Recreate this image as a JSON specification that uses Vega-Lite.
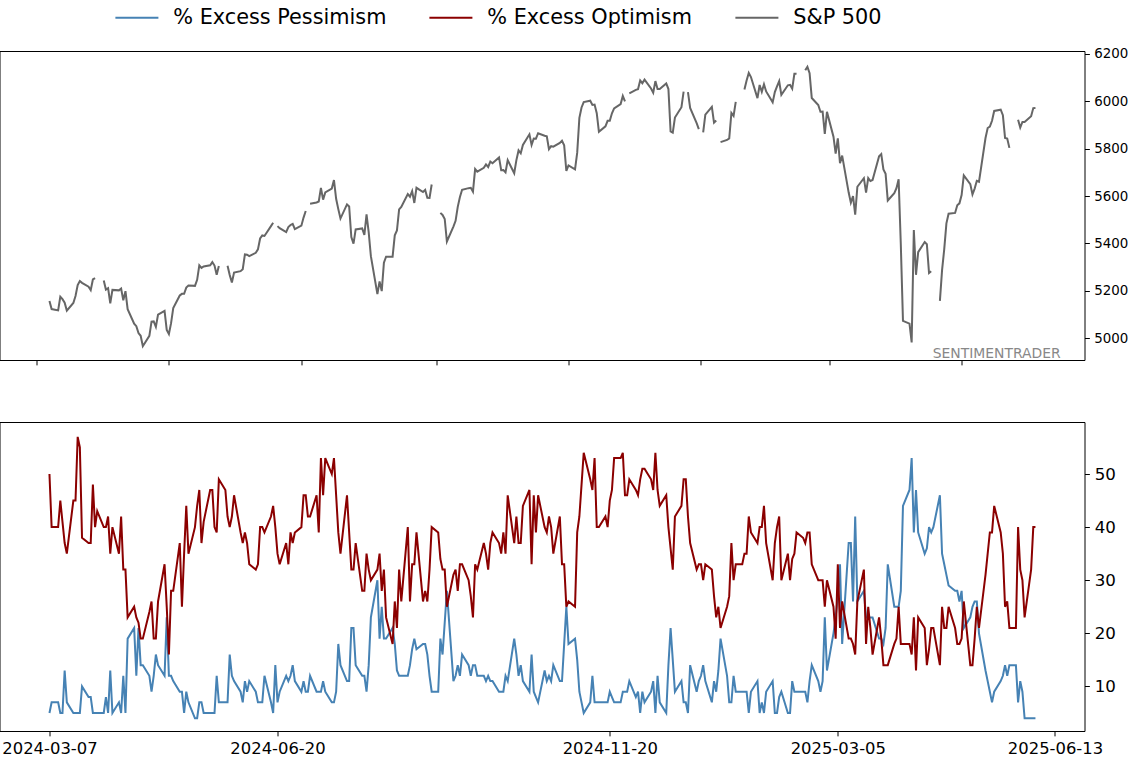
{
"$schema": "https://vega.github.io/schema/vega-lite/v6.json",
"padding": {"left": -1.5, "top": 7, "right": 0, "bottom": 0},
"background": "white",
"bounds": "flush",
"spacing": 62,
"config": {
  "font": "DejaVu Sans",
  "view": {"stroke": "black", "strokeWidth": 1},
  "axis": {"domain": false, "grid": false, "tickColor": "black", "tickSize": 4.86, "tickWidth": 1, "labelColor": "black", "labelFont": "DejaVu Sans", "labelPadding": 4.86, "title": null}
},
"datasets": {"d": [
{"date":"2024-03-07","p":5,"o":50,"s":5157.36},
{"date":"2024-03-08","p":7,"o":40,"s":5123.69},
{"date":"2024-03-11","p":7,"o":40,"s":5117.94},
{"date":"2024-03-12","p":5,"o":45,"s":5175.27},
{"date":"2024-03-13","p":5,"o":41,"s":5165.31},
{"date":"2024-03-14","p":13,"o":37,"s":5150.48},
{"date":"2024-03-15","p":7,"o":35,"s":5117.09},
{"date":"2024-03-18","p":5,"o":45,"s":5149.42},
{"date":"2024-03-19","p":5,"o":45,"s":5178.51},
{"date":"2024-03-20","p":5,"o":57,"s":5224.62},
{"date":"2024-03-21","p":5,"o":55,"s":5241.53},
{"date":"2024-03-22","p":10,"o":38,"s":5234.18},
{"date":"2024-03-25","p":8,"o":37,"s":5218.19},
{"date":"2024-03-26","p":8,"o":37,"s":5203.58},
{"date":"2024-03-27","p":5,"o":48,"s":5248.49},
{"date":"2024-03-28","p":5,"o":40,"s":5254.35},
{"date":"2024-03-29","p":5,"o":43,"s":null},
{"date":"2024-04-01","p":5,"o":40,"s":5243.77},
{"date":"2024-04-02","p":8,"o":40,"s":5205.81},
{"date":"2024-04-03","p":5,"o":42,"s":5211.49},
{"date":"2024-04-04","p":13,"o":35,"s":5147.21},
{"date":"2024-04-05","p":5,"o":40,"s":5204.34},
{"date":"2024-04-08","p":7,"o":35,"s":5202.39},
{"date":"2024-04-09","p":5,"o":42,"s":5209.91},
{"date":"2024-04-10","p":12,"o":32,"s":5160.64},
{"date":"2024-04-11","p":5,"o":32,"s":5199.06},
{"date":"2024-04-12","p":19,"o":23,"s":5123.41},
{"date":"2024-04-15","p":21,"o":25,"s":5061.82},
{"date":"2024-04-16","p":12,"o":23,"s":5051.41},
{"date":"2024-04-17","p":21,"o":22,"s":5022.21},
{"date":"2024-04-18","p":14,"o":19,"s":5011.12},
{"date":"2024-04-19","p":14,"o":19,"s":4967.23},
{"date":"2024-04-22","p":12,"o":24,"s":5010.60},
{"date":"2024-04-23","p":9,"o":26,"s":5070.55},
{"date":"2024-04-24","p":12,"o":19,"s":5071.63},
{"date":"2024-04-25","p":16,"o":19,"s":5048.42},
{"date":"2024-04-26","p":14,"o":26,"s":5099.96},
{"date":"2024-04-29","p":12,"o":33,"s":5116.17},
{"date":"2024-04-30","p":23,"o":25,"s":5035.69},
{"date":"2024-05-01","p":12,"o":16,"s":5018.39},
{"date":"2024-05-02","p":12,"o":28,"s":5064.20},
{"date":"2024-05-03","p":11,"o":28,"s":5127.79},
{"date":"2024-05-06","p":9,"o":37,"s":5180.74},
{"date":"2024-05-07","p":9,"o":25,"s":5187.70},
{"date":"2024-05-08","p":5,"o":35,"s":5187.67},
{"date":"2024-05-09","p":9,"o":44,"s":5214.08},
{"date":"2024-05-10","p":7,"o":35,"s":5222.68},
{"date":"2024-05-13","p":4,"o":40,"s":5221.42},
{"date":"2024-05-14","p":4,"o":44,"s":5246.68},
{"date":"2024-05-15","p":7,"o":47,"s":5308.15},
{"date":"2024-05-16","p":7,"o":37,"s":5297.10},
{"date":"2024-05-17","p":5,"o":41,"s":5303.27},
{"date":"2024-05-20","p":5,"o":47,"s":5308.13},
{"date":"2024-05-21","p":5,"o":47,"s":5321.41},
{"date":"2024-05-22","p":5,"o":40,"s":5307.01},
{"date":"2024-05-23","p":12,"o":39,"s":5267.84},
{"date":"2024-05-24","p":7,"o":49,"s":5304.72},
{"date":"2024-05-27","p":7,"o":47,"s":null},
{"date":"2024-05-28","p":7,"o":42,"s":5306.04},
{"date":"2024-05-29","p":16,"o":40,"s":5266.95},
{"date":"2024-05-30","p":12,"o":42,"s":5235.48},
{"date":"2024-05-31","p":11,"o":46,"s":5277.51},
{"date":"2024-06-03","p":9,"o":39,"s":5283.40},
{"date":"2024-06-04","p":7,"o":37,"s":5291.34},
{"date":"2024-06-05","p":11,"o":39,"s":5354.03},
{"date":"2024-06-06","p":9,"o":37,"s":5352.96},
{"date":"2024-06-07","p":11,"o":33,"s":5346.99},
{"date":"2024-06-10","p":9,"o":32,"s":5360.79},
{"date":"2024-06-11","p":7,"o":33,"s":5375.32},
{"date":"2024-06-12","p":7,"o":40,"s":5421.03},
{"date":"2024-06-13","p":7,"o":40,"s":5433.74},
{"date":"2024-06-14","p":12,"o":39,"s":5431.60},
{"date":"2024-06-17","p":7,"o":42,"s":5473.23},
{"date":"2024-06-18","p":5,"o":44,"s":5487.03},
{"date":"2024-06-19","p":14,"o":40,"s":null},
{"date":"2024-06-20","p":7,"o":35,"s":5473.17},
{"date":"2024-06-21","p":9,"o":33,"s":5464.62},
{"date":"2024-06-24","p":12,"o":37,"s":5447.87},
{"date":"2024-06-25","p":11,"o":33,"s":5469.30},
{"date":"2024-06-26","p":12,"o":39,"s":5477.90},
{"date":"2024-06-27","p":14,"o":37,"s":5482.87},
{"date":"2024-06-28","p":11,"o":39,"s":5460.48},
{"date":"2024-07-01","p":9,"o":40,"s":5475.09},
{"date":"2024-07-02","p":11,"o":46,"s":5509.01},
{"date":"2024-07-03","p":9,"o":46,"s":5537.02},
{"date":"2024-07-04","p":9,"o":42,"s":null},
{"date":"2024-07-05","p":12,"o":42,"s":5567.19},
{"date":"2024-07-08","p":9,"o":46,"s":5572.85},
{"date":"2024-07-09","p":9,"o":39,"s":5576.98},
{"date":"2024-07-10","p":9,"o":53,"s":5633.91},
{"date":"2024-07-11","p":11,"o":46,"s":5584.54},
{"date":"2024-07-12","p":9,"o":53,"s":5615.35},
{"date":"2024-07-15","p":7,"o":50,"s":5631.22},
{"date":"2024-07-16","p":7,"o":53,"s":5667.20},
{"date":"2024-07-17","p":9,"o":46,"s":5588.27},
{"date":"2024-07-18","p":18,"o":39,"s":5544.59},
{"date":"2024-07-19","p":14,"o":35,"s":5505.00},
{"date":"2024-07-22","p":11,"o":46,"s":5564.41},
{"date":"2024-07-23","p":11,"o":39,"s":5555.74},
{"date":"2024-07-24","p":21,"o":32,"s":5427.13},
{"date":"2024-07-25","p":21,"o":32,"s":5399.22},
{"date":"2024-07-26","p":14,"o":37,"s":5459.10},
{"date":"2024-07-29","p":12,"o":28,"s":5463.54},
{"date":"2024-07-30","p":12,"o":28,"s":5436.44},
{"date":"2024-07-31","p":9,"o":35,"s":5522.30},
{"date":"2024-08-01","p":14,"o":32,"s":5446.68},
{"date":"2024-08-02","p":23,"o":30,"s":5346.56},
{"date":"2024-08-05","p":30,"o":32,"s":5186.33},
{"date":"2024-08-06","p":19,"o":35,"s":5240.03},
{"date":"2024-08-07","p":25,"o":28,"s":5199.50},
{"date":"2024-08-08","p":19,"o":32,"s":5319.31},
{"date":"2024-08-09","p":19,"o":23,"s":5344.16},
{"date":"2024-08-12","p":21,"o":18,"s":5344.39},
{"date":"2024-08-13","p":18,"o":26,"s":5434.43},
{"date":"2024-08-14","p":13,"o":21,"s":5455.21},
{"date":"2024-08-15","p":12,"o":32,"s":5543.22},
{"date":"2024-08-16","p":12,"o":26,"s":5554.25},
{"date":"2024-08-19","p":12,"o":40,"s":5608.25},
{"date":"2024-08-20","p":14,"o":26,"s":5597.12},
{"date":"2024-08-21","p":17,"o":33,"s":5620.85},
{"date":"2024-08-22","p":19,"o":33,"s":5570.64},
{"date":"2024-08-23","p":17,"o":39,"s":5634.61},
{"date":"2024-08-26","p":18,"o":26,"s":5616.84},
{"date":"2024-08-27","p":18,"o":28,"s":5625.80},
{"date":"2024-08-28","p":16,"o":26,"s":5592.18},
{"date":"2024-08-29","p":12,"o":32,"s":5591.96},
{"date":"2024-08-30","p":9,"o":40,"s":5648.40},
{"date":"2024-09-02","p":9,"o":39,"s":null},
{"date":"2024-09-03","p":19,"o":34,"s":5528.93},
{"date":"2024-09-04","p":16,"o":32,"s":5520.07},
{"date":"2024-09-05","p":22,"o":32,"s":5503.41},
{"date":"2024-09-06","p":28,"o":25,"s":5408.42},
{"date":"2024-09-09","p":11,"o":31,"s":5471.05},
{"date":"2024-09-10","p":12,"o":32,"s":5495.52},
{"date":"2024-09-11","p":14,"o":28,"s":5554.13},
{"date":"2024-09-12","p":12,"o":33,"s":5595.76},
{"date":"2024-09-13","p":16,"o":33,"s":5626.02},
{"date":"2024-09-16","p":14,"o":30,"s":5633.09},
{"date":"2024-09-17","p":12,"o":27,"s":5634.58},
{"date":"2024-09-18","p":14,"o":23,"s":5618.26},
{"date":"2024-09-19","p":14,"o":33,"s":5713.64},
{"date":"2024-09-20","p":12,"o":32,"s":5702.55},
{"date":"2024-09-23","p":12,"o":37,"s":5718.57},
{"date":"2024-09-24","p":11,"o":35,"s":5732.93},
{"date":"2024-09-25","p":12,"o":32,"s":5722.26},
{"date":"2024-09-26","p":11,"o":37,"s":5745.37},
{"date":"2024-09-27","p":11,"o":39,"s":5738.17},
{"date":"2024-09-30","p":9,"o":37,"s":5762.48},
{"date":"2024-10-01","p":9,"o":35,"s":5708.75},
{"date":"2024-10-02","p":9,"o":39,"s":5709.54},
{"date":"2024-10-03","p":12,"o":35,"s":5699.94},
{"date":"2024-10-04","p":11,"o":46,"s":5751.07},
{"date":"2024-10-07","p":19,"o":37,"s":5695.94},
{"date":"2024-10-08","p":16,"o":42,"s":5751.13},
{"date":"2024-10-09","p":12,"o":37,"s":5792.04},
{"date":"2024-10-10","p":14,"o":37,"s":5780.05},
{"date":"2024-10-11","p":11,"o":44,"s":5815.03},
{"date":"2024-10-14","p":9,"o":47,"s":5859.85},
{"date":"2024-10-15","p":16,"o":33,"s":5815.26},
{"date":"2024-10-16","p":9,"o":46,"s":5842.47},
{"date":"2024-10-17","p":8,"o":39,"s":5841.47},
{"date":"2024-10-18","p":7,"o":46,"s":5864.67},
{"date":"2024-10-21","p":13,"o":40,"s":5853.98},
{"date":"2024-10-22","p":11,"o":39,"s":5851.20},
{"date":"2024-10-23","p":12,"o":42,"s":5797.42},
{"date":"2024-10-24","p":11,"o":40,"s":5809.86},
{"date":"2024-10-25","p":14,"o":35,"s":5808.12},
{"date":"2024-10-28","p":11,"o":42,"s":5823.52},
{"date":"2024-10-29","p":11,"o":33,"s":5832.92},
{"date":"2024-10-30","p":18,"o":33,"s":5813.67},
{"date":"2024-10-31","p":25,"o":25,"s":5705.45},
{"date":"2024-11-01","p":18,"o":26,"s":5728.80},
{"date":"2024-11-04","p":19,"o":25,"s":5712.69},
{"date":"2024-11-05","p":15,"o":39,"s":5782.76},
{"date":"2024-11-06","p":9,"o":42,"s":5929.04},
{"date":"2024-11-07","p":7,"o":48,"s":5973.10},
{"date":"2024-11-08","p":5,"o":54,"s":5995.54},
{"date":"2024-11-11","p":7,"o":49,"s":6001.35},
{"date":"2024-11-12","p":12,"o":47,"s":5983.99},
{"date":"2024-11-13","p":7,"o":53,"s":5985.38},
{"date":"2024-11-14","p":7,"o":40,"s":5949.17},
{"date":"2024-11-15","p":7,"o":40,"s":5870.62},
{"date":"2024-11-18","p":7,"o":42,"s":5893.62},
{"date":"2024-11-19","p":7,"o":40,"s":5916.98},
{"date":"2024-11-20","p":9,"o":45,"s":5917.11},
{"date":"2024-11-21","p":8,"o":47,"s":5948.71},
{"date":"2024-11-22","p":7,"o":53,"s":5969.34},
{"date":"2024-11-25","p":7,"o":53,"s":5987.37},
{"date":"2024-11-26","p":9,"o":54,"s":6021.63},
{"date":"2024-11-27","p":9,"o":46,"s":5998.74},
{"date":"2024-11-28","p":9,"o":46,"s":null},
{"date":"2024-11-29","p":11,"o":49,"s":6032.38},
{"date":"2024-12-02","p":8,"o":47,"s":6047.15},
{"date":"2024-12-03","p":9,"o":46,"s":6049.88},
{"date":"2024-12-04","p":5,"o":49,"s":6086.49},
{"date":"2024-12-05","p":9,"o":51,"s":6075.11},
{"date":"2024-12-06","p":7,"o":51,"s":6090.27},
{"date":"2024-12-09","p":9,"o":49,"s":6052.85},
{"date":"2024-12-10","p":11,"o":47,"s":6034.91},
{"date":"2024-12-11","p":5,"o":54,"s":6084.19},
{"date":"2024-12-12","p":12,"o":47,"s":6051.25},
{"date":"2024-12-13","p":7,"o":44,"s":6051.09},
{"date":"2024-12-16","p":5,"o":46,"s":6074.08},
{"date":"2024-12-17","p":14,"o":40,"s":6050.61},
{"date":"2024-12-18","p":21,"o":36,"s":5872.16},
{"date":"2024-12-19","p":15,"o":32,"s":5867.08},
{"date":"2024-12-20","p":9,"o":42,"s":5930.85},
{"date":"2024-12-23","p":11,"o":44,"s":5974.07},
{"date":"2024-12-24","p":7,"o":49,"s":6040.04},
{"date":"2024-12-25","p":7,"o":49,"s":null},
{"date":"2024-12-26","p":5,"o":42,"s":6037.59},
{"date":"2024-12-27","p":14,"o":37,"s":5970.84},
{"date":"2024-12-30","p":9,"o":32,"s":5906.94},
{"date":"2024-12-31","p":11,"o":33,"s":5881.63},
{"date":"2025-01-01","p":12,"o":33,"s":null},
{"date":"2025-01-02","p":14,"o":30,"s":5868.55},
{"date":"2025-01-03","p":11,"o":33,"s":5942.47},
{"date":"2025-01-06","p":7,"o":32,"s":5975.38},
{"date":"2025-01-07","p":11,"o":27,"s":5909.03},
{"date":"2025-01-08","p":9,"o":23,"s":5918.25},
{"date":"2025-01-09","p":13,"o":25,"s":null},
{"date":"2025-01-10","p":19,"o":21,"s":5827.04},
{"date":"2025-01-13","p":12,"o":25,"s":5836.22},
{"date":"2025-01-14","p":7,"o":27,"s":5842.91},
{"date":"2025-01-15","p":7,"o":37,"s":5949.91},
{"date":"2025-01-16","p":12,"o":30,"s":5937.34},
{"date":"2025-01-17","p":9,"o":33,"s":5996.66},
{"date":"2025-01-20","p":9,"o":33,"s":null},
{"date":"2025-01-21","p":9,"o":35,"s":6049.24},
{"date":"2025-01-22","p":9,"o":35,"s":6086.37},
{"date":"2025-01-23","p":5,"o":42,"s":6118.71},
{"date":"2025-01-24","p":9,"o":39,"s":6101.24},
{"date":"2025-01-27","p":11,"o":37,"s":6012.28},
{"date":"2025-01-28","p":5,"o":40,"s":6067.70},
{"date":"2025-01-29","p":7,"o":40,"s":6039.31},
{"date":"2025-01-30","p":5,"o":44,"s":6071.17},
{"date":"2025-01-31","p":9,"o":37,"s":6040.53},
{"date":"2025-02-03","p":11,"o":30,"s":5994.57},
{"date":"2025-02-04","p":5,"o":37,"s":6037.88},
{"date":"2025-02-05","p":5,"o":40,"s":6061.48},
{"date":"2025-02-06","p":8,"o":42,"s":6083.57},
{"date":"2025-02-07","p":9,"o":30,"s":6025.99},
{"date":"2025-02-10","p":5,"o":35,"s":6066.44},
{"date":"2025-02-11","p":5,"o":30,"s":6068.50},
{"date":"2025-02-12","p":11,"o":34,"s":6051.97},
{"date":"2025-02-13","p":9,"o":35,"s":6115.07},
{"date":"2025-02-14","p":9,"o":39,"s":6114.63},
{"date":"2025-02-17","p":9,"o":38,"s":null},
{"date":"2025-02-18","p":9,"o":37,"s":6129.58},
{"date":"2025-02-19","p":7,"o":39,"s":6144.15},
{"date":"2025-02-20","p":11,"o":39,"s":6117.52},
{"date":"2025-02-21","p":14,"o":33,"s":6013.13},
{"date":"2025-02-24","p":11,"o":30,"s":5983.25},
{"date":"2025-02-25","p":9,"o":30,"s":5955.25},
{"date":"2025-02-26","p":11,"o":30,"s":5956.06},
{"date":"2025-02-27","p":23,"o":25,"s":5861.57},
{"date":"2025-02-28","p":13,"o":30,"s":5954.50},
{"date":"2025-03-03","p":20,"o":25,"s":5849.72},
{"date":"2025-03-04","p":23,"o":19,"s":5778.15},
{"date":"2025-03-05","p":27,"o":33,"s":5842.63},
{"date":"2025-03-06","p":33,"o":21,"s":5738.52},
{"date":"2025-03-07","p":18,"o":26,"s":5770.20},
{"date":"2025-03-10","p":37,"o":19,"s":5614.56},
{"date":"2025-03-11","p":37,"o":19,"s":5572.07},
{"date":"2025-03-12","p":26,"o":18,"s":5599.30},
{"date":"2025-03-13","p":42,"o":16,"s":5521.52},
{"date":"2025-03-14","p":26,"o":26,"s":5638.94},
{"date":"2025-03-17","p":28,"o":32,"s":5675.12},
{"date":"2025-03-18","p":23,"o":18,"s":5614.66},
{"date":"2025-03-19","p":23,"o":25,"s":5675.29},
{"date":"2025-03-20","p":23,"o":21,"s":5662.89},
{"date":"2025-03-21","p":23,"o":16,"s":5667.56},
{"date":"2025-03-24","p":19,"o":23,"s":5767.57},
{"date":"2025-03-25","p":19,"o":19,"s":5776.65},
{"date":"2025-03-26","p":18,"o":14,"s":5712.20},
{"date":"2025-03-27","p":21,"o":14,"s":5693.31},
{"date":"2025-03-28","p":33,"o":14,"s":5580.94},
{"date":"2025-03-31","p":25,"o":18,"s":5611.85},
{"date":"2025-04-01","p":25,"o":19,"s":5633.07},
{"date":"2025-04-02","p":25,"o":25,"s":5670.97},
{"date":"2025-04-03","p":28,"o":18,"s":5396.52},
{"date":"2025-04-04","p":44,"o":18,"s":5074.08},
{"date":"2025-04-07","p":47,"o":18,"s":5062.25},
{"date":"2025-04-08","p":53,"o":16,"s":4982.77},
{"date":"2025-04-09","p":39,"o":23,"s":5456.90},
{"date":"2025-04-10","p":47,"o":13,"s":5268.05},
{"date":"2025-04-11","p":39,"o":23,"s":5363.36},
{"date":"2025-04-14","p":35,"o":21,"s":5405.97},
{"date":"2025-04-15","p":36,"o":14,"s":5396.63},
{"date":"2025-04-16","p":40,"o":17,"s":5275.70},
{"date":"2025-04-17","p":39,"o":21,"s":5282.70},
{"date":"2025-04-18","p":40,"o":21,"s":null},
{"date":"2025-04-21","p":46,"o":14,"s":5158.20},
{"date":"2025-04-22","p":35,"o":25,"s":5287.76},
{"date":"2025-04-23","p":33,"o":21,"s":5375.86},
{"date":"2025-04-24","p":31,"o":21,"s":5484.77},
{"date":"2025-04-25","p":29,"o":25,"s":5525.21},
{"date":"2025-04-28","p":28,"o":21,"s":5528.75},
{"date":"2025-04-29","p":28,"o":18,"s":5560.83},
{"date":"2025-04-30","p":26,"o":18,"s":5569.06},
{"date":"2025-05-01","p":28,"o":19,"s":5604.14},
{"date":"2025-05-02","p":21,"o":26,"s":5686.67},
{"date":"2025-05-05","p":23,"o":14,"s":5650.38},
{"date":"2025-05-06","p":25,"o":14,"s":5606.91},
{"date":"2025-05-07","p":26,"o":19,"s":5631.28},
{"date":"2025-05-08","p":26,"o":25,"s":5663.94},
{"date":"2025-05-09","p":20,"o":21,"s":5659.91},
{"date":"2025-05-12","p":13,"o":31,"s":5844.19},
{"date":"2025-05-13","p":11,"o":35,"s":5886.55},
{"date":"2025-05-14","p":9,"o":39,"s":5892.58},
{"date":"2025-05-15","p":7,"o":39,"s":5916.93},
{"date":"2025-05-16","p":9,"o":44,"s":5958.38},
{"date":"2025-05-19","p":11,"o":39,"s":5963.60},
{"date":"2025-05-20","p":12,"o":35,"s":5940.46},
{"date":"2025-05-21","p":14,"o":25,"s":5844.61},
{"date":"2025-05-22","p":12,"o":26,"s":5842.01},
{"date":"2025-05-23","p":14,"o":21,"s":5802.82},
{"date":"2025-05-26","p":14,"o":21,"s":null},
{"date":"2025-05-27","p":7,"o":40,"s":5921.54},
{"date":"2025-05-28","p":11,"o":32,"s":5888.55},
{"date":"2025-05-29","p":9,"o":30,"s":5912.17},
{"date":"2025-05-30","p":4,"o":23,"s":5911.69},
{"date":"2025-06-02","p":4,"o":32,"s":5935.94},
{"date":"2025-06-03","p":4,"o":40,"s":5970.37},
{"date":"2025-06-04","p":4,"o":40,"s":5970.81}
]},
"resolve": {"scale": {"color": "shared"}, "legend": {"color": "shared"}},
"vconcat": [
 {
  "width": 1085, "height": 309,
  "layer": [
   {
    "data": {"name": "d"},
    "mark": {"type": "line", "strokeWidth": 2, "invalid": "break-paths-show-domains"},
    "encoding": {
     "x": {"field": "date", "type": "temporal",
       "scale": {"type": "utc", "nice": false, "domain": [{"year": 2024, "month": 2, "date": 13, "utc": true}, {"year": 2025, "month": 6, "date": 26, "hours": 14, "utc": true}]},
       "axis": {"orient": "bottom", "labels": false,
         "values": [{"year": 2024, "month": 3, "date": 1, "utc": true}, {"year": 2024, "month": 5, "date": 1, "utc": true}, {"year": 2024, "month": 7, "date": 1, "utc": true}, {"year": 2024, "month": 9, "date": 1, "utc": true}, {"year": 2024, "month": 11, "date": 1, "utc": true}, {"year": 2025, "month": 1, "date": 1, "utc": true}, {"year": 2025, "month": 3, "date": 1, "utc": true}, {"year": 2025, "month": 5, "date": 1, "utc": true}]}},
     "y": {"field": "s", "type": "quantitative",
       "scale": {"domain": [4909, 6211], "nice": false, "zero": false},
       "axis": {"orient": "right", "values": [5000, 5200, 5400, 5600, 5800, 6000, 6200], "format": "d", "labelFontSize": 13.4, "labelPadding": 4.3}},
     "color": {"datum": "S&P 500", "type": "nominal",
       "scale": {"domain": ["% Excess Pessimism", "% Excess Optimism", "S&P 500"], "range": ["#4682b4", "#8b0000", "#666666"]},
       "legend": {"orient": "none", "legendX": 127, "legendY": -44, "direction": "horizontal", "title": null, "symbolType": "M-4,0H4", "symbolSize": 115.6, "symbolStrokeWidth": 2, "labelFontSize": 20.8, "labelFont": "DejaVu Sans", "labelColor": "black", "labelOffset": 26, "columnPadding": 38, "padding": 0, "labelLimit": 0}}
    }
   },
   {
    "data": {"values": [{}]},
    "mark": {"type": "text", "text": "SENTIMENTRADER", "font": "DejaVu Sans", "fontSize": 13.9, "color": "#888888", "align": "right", "baseline": "alphabetic"},
    "encoding": {
     "x": {"datum": {"year": 2025, "month": 6, "date": 15, "hours": 14, "utc": true}, "type": "temporal"},
     "y": {"datum": 4917, "type": "quantitative"}
    }
   }
  ]
 },
 {
  "width": 1085, "height": 309,
  "data": {"name": "d"},
  "layer": [
   {
    "mark": {"type": "line", "strokeWidth": 2},
    "encoding": {
     "x": {"field": "date", "type": "temporal",
       "scale": {"type": "utc", "nice": false, "domain": [{"year": 2024, "month": 2, "date": 13, "utc": true}, {"year": 2025, "month": 6, "date": 26, "hours": 14, "utc": true}]},
       "axis": {"orient": "bottom", "format": "%Y-%m-%d", "labelFontSize": 16.4,
         "values": [{"year": 2024, "month": 3, "date": 7, "utc": true}, {"year": 2024, "month": 6, "date": 20, "utc": true}, {"year": 2024, "month": 11, "date": 20, "utc": true}, {"year": 2025, "month": 3, "date": 5, "utc": true}, {"year": 2025, "month": 6, "date": 13, "utc": true}]}},
     "y": {"field": "p", "type": "quantitative",
       "scale": {"domain": [1.6, 59.8], "nice": false, "zero": false},
       "axis": {"orient": "right", "values": [10, 20, 30, 40, 50], "format": "d", "labelFontSize": 16.67}},
     "color": {"datum": "% Excess Pessimism", "type": "nominal",
       "scale": {"domain": ["% Excess Pessimism", "% Excess Optimism", "S&P 500"], "range": ["#4682b4", "#8b0000", "#666666"]},
       "legend": {"orient": "none", "legendX": 127, "legendY": -44, "direction": "horizontal", "title": null, "symbolType": "M-4,0H4", "symbolSize": 115.6, "symbolStrokeWidth": 2, "labelFontSize": 20.8, "labelFont": "DejaVu Sans", "labelColor": "black", "labelOffset": 26, "columnPadding": 38, "padding": 0, "labelLimit": 0}}
    }
   },
   {
    "mark": {"type": "line", "strokeWidth": 2},
    "encoding": {
     "x": {"field": "date", "type": "temporal",
       "scale": {"type": "utc", "nice": false, "domain": [{"year": 2024, "month": 2, "date": 13, "utc": true}, {"year": 2025, "month": 6, "date": 26, "hours": 14, "utc": true}]},
       "axis": {"orient": "bottom", "format": "%Y-%m-%d", "labelFontSize": 16.4,
         "values": [{"year": 2024, "month": 3, "date": 7, "utc": true}, {"year": 2024, "month": 6, "date": 20, "utc": true}, {"year": 2024, "month": 11, "date": 20, "utc": true}, {"year": 2025, "month": 3, "date": 5, "utc": true}, {"year": 2025, "month": 6, "date": 13, "utc": true}]}},
     "y": {"field": "o", "type": "quantitative",
       "scale": {"domain": [1.6, 59.8], "nice": false, "zero": false},
       "axis": {"orient": "right", "values": [10, 20, 30, 40, 50], "format": "d", "labelFontSize": 16.67}},
     "color": {"datum": "% Excess Optimism", "type": "nominal",
       "scale": {"domain": ["% Excess Pessimism", "% Excess Optimism", "S&P 500"], "range": ["#4682b4", "#8b0000", "#666666"]},
       "legend": {"orient": "none", "legendX": 127, "legendY": -44, "direction": "horizontal", "title": null, "symbolType": "M-4,0H4", "symbolSize": 115.6, "symbolStrokeWidth": 2, "labelFontSize": 20.8, "labelFont": "DejaVu Sans", "labelColor": "black", "labelOffset": 26, "columnPadding": 38, "padding": 0, "labelLimit": 0}}
    }
   }
  ]
 }
]
}
